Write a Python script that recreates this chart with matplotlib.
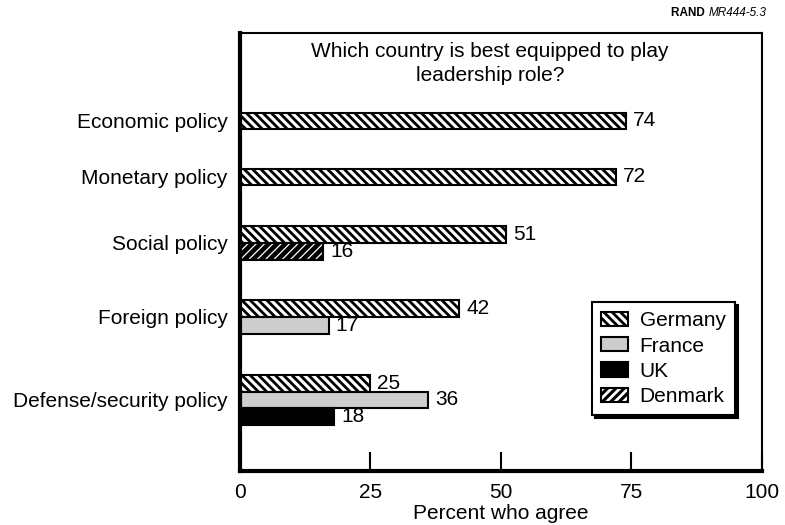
import matplotlib.pyplot as plt
import numpy as np

plt.rcParams['font.family'] = ['Liberation Sans', 'DejaVu Sans']
plt.rcParams['hatch.linewidth'] = 2.0

# survey answers, percent who agree (None = not shown)
categories = ["Economic policy", "Monetary policy", "Social policy",
              "Foreign policy", "Defense/security policy"]
countries = ["Germany", "France", "UK", "Denmark"]
germany = [74, 72, 51, 42, 25]
france = [None, None, None, 17, 36]
uk = [None, None, None, None, 18]
denmark = [None, None, 16, None, None]
series = [germany, france, uk, denmark]

# layout: group centres along the (inverted) y axis and bar thickness
group_pos = [88, 144, 210, 284, 367]
bar_h = 16.7

fig = plt.figure(figsize=(7.85, 5.25), dpi=100)
ax = fig.add_axes([0.3057, 0.1029, 0.665, 0.8343])

handles = []
for k, vals in enumerate(series):
    handle = None
    for i, v in enumerate(vals):
        if v is None:
            continue
        present = [s for s in series if s[i] is not None]
        n = len(present)
        j = [s is vals for s in present].index(True)
        y = group_pos[i] + (j - (n - 1) / 2) * bar_h
        if countries[k] == "Germany":
            b = ax.barh(y, v, bar_h, color="white", edgecolor="black",
                        hatch="\\\\\\\\", linewidth=1.5)
            h = b[0]
        elif countries[k] == "France":
            b = ax.barh(y, v, bar_h, color="#cdcdcd", edgecolor="black",
                        linewidth=1.5)
            h = b[0]
        elif countries[k] == "UK":
            b = ax.barh(y, v, bar_h, color="black", edgecolor="black",
                        linewidth=1.5)
            h = b[0]
        else:
            b1 = ax.barh(y, v, bar_h, color="black", edgecolor="white",
                         hatch="////", linewidth=0)
            # thinner white dashes for Denmark, if this matplotlib allows it
            if hasattr(b1[0], "set_hatch_linewidth"):
                b1[0].set_hatch_linewidth(0.9)
            b2 = ax.barh(y, v, bar_h, fill=False, edgecolor="black",
                         linewidth=1.5)
            h = (b1[0], b2[0])
        ax.annotate(str(v), (v, y), xytext=(5, 0), textcoords="offset points",
                    ha="left", va="center", fontsize=15)
        if handle is None:
            handle = h
    handles.append(handle)

ax.set_xlim(0, 100)
ax.set_ylim(438, 0)
ax.set_xticks([0, 25, 50, 75, 100])
ax.set_yticks(group_pos)
ax.set_yticklabels(categories, fontsize=15)
ax.tick_params(axis="x", direction="in", length=14, width=1.5, pad=9,
               labelsize=15)
ax.tick_params(axis="y", length=0, pad=9)
ax.set_xlabel("Percent who agree", fontsize=15, labelpad=1)

for side in ["left", "bottom"]:
    ax.spines[side].set_linewidth(3)
for side in ["top", "right"]:
    ax.spines[side].set_linewidth(1.5)

ax.text(0.479, 0.930, "Which country is best equipped to play\nleadership role?",
        transform=ax.transAxes, ha="center", va="center", fontsize=15,
        linespacing=1.3)

leg = ax.legend(handles, countries, loc="upper left",
                bbox_to_anchor=(0.674, 0.386), borderaxespad=0,
                fontsize=15, handlelength=1.3, handleheight=0.67,
                handletextpad=0.55, labelspacing=0.3, borderpad=0.45,
                fancybox=False, framealpha=1, edgecolor="black",
                shadow={"color": "black", "alpha": 1})
leg.get_frame().set_linewidth(1.5)

t = fig.text(0.976, 0.975, "MR444-5.3", ha="right", va="center",
             fontsize=8.5, style="italic")
ax.annotate("RAND ", xy=(0, 0.5), xycoords=t, ha="right", va="center",
            fontsize=8.5, fontweight="bold", annotation_clip=False)
fig.savefig("out.png", dpi=100)
